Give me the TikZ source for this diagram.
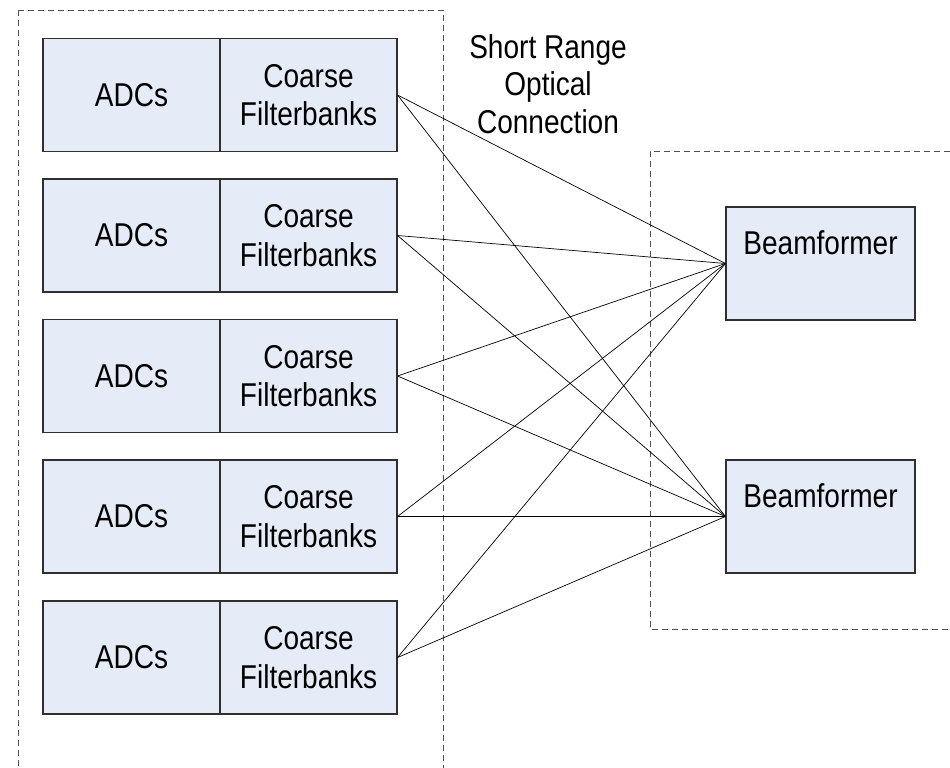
\documentclass[tikz,border=0pt]{standalone}
\usepackage{fontspec}
\setmainfont{Liberation Sans}[FakeStretch=0.85]
\definecolor{boxfill}{HTML}{E6ECF7}
\definecolor{boxline}{HTML}{303030}
\definecolor{dashline}{HTML}{505050}
\begin{document}
\begin{tikzpicture}[x=1pt,y=-1pt,
  half/.style={draw=boxline,line width=1.1pt,fill=boxfill,minimum width=177pt,minimum height=113pt,inner sep=0pt,align=center,font=\fontsize{33}{38.5}\selectfont},
  bfbox/.style={draw=boxline,line width=1.1pt,fill=boxfill,minimum width=189pt,minimum height=113pt,inner sep=0pt},
  txt/.style={inner sep=0pt,align=center,font=\fontsize{33}{37.5}\selectfont},
  group/.style={draw=dashline,line width=0.8pt,dash pattern=on 6pt off 4pt},
  link/.style={draw=black,line width=0.7pt}]
\useasboundingbox (0,0) rectangle (950,768);
\begin{scope}
\clip (0,0) rectangle (950,768);
\draw[group] (18,10) -- (443,10) -- (443,780) (18,10) -- (18,780);
\draw[group] (960,151) -- (650,151) -- (650,629) -- (960,629);
\end{scope}
\foreach \i/\y in {1/95,2/235.5,3/376,4/516.5,5/657.5}{
  \node[half] (adc\i) at (131.5,\y) {ADCs};
  \node[half] (cf\i) at (308.5,\y) {Coarse\\Filterbanks};
}
\node[bfbox] (bf1) at (820.5,263.5) {};
\node[txt] (bf1t) at (820.5,242.5) {Beamformer};
\node[bfbox] (bf2) at (820.5,516.5) {};
\node[txt] (bf2t) at (820.5,495.5) {Beamformer};
\node[txt] (lbl) at (548,84) {Short Range\\Optical\\Connection};
\foreach \i in {1,...,5}{
  \draw[link] (cf\i.east) -- (bf1.west);
  \draw[link] (cf\i.east) -- (bf2.west);
}
\end{tikzpicture}
\end{document}
